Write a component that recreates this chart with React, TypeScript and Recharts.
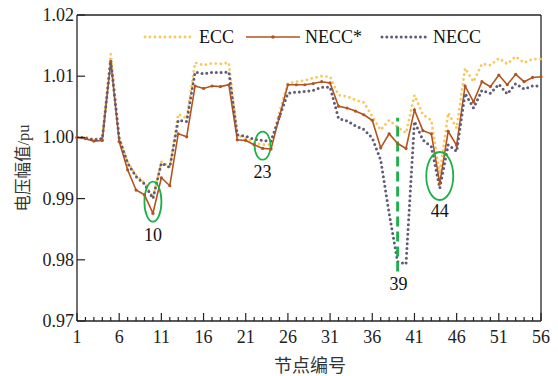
import React from 'react';
import { LineChart, Line, XAxis, YAxis, ReferenceLine, ReferenceDot, Legend } from 'recharts';

const nodes = [1, 2, 3, 4, 5, 6, 7, 8, 9, 10, 11, 12, 13, 14, 15, 16, 17, 18, 19, 20, 21, 22, 23, 24, 25, 26, 27, 28, 29, 30, 31, 32, 33, 34, 35, 36, 37, 38, 39, 40, 41, 42, 43, 44, 45, 46, 47, 48, 49, 50, 51, 52, 53, 54, 55, 56];

const eccValues = [
  1.0000, 1.0000, 0.9997, 0.9999, 1.0136, 1.0000, 0.9960, 0.9938, 0.9926, 0.9902,
  0.9960, 0.9952, 1.0038, 1.0031, 1.0122, 1.0118, 1.0121, 1.0120, 1.0122, 1.0003,
  0.9999, 0.9991, 0.9988, 0.9988, 1.0042, 1.0088, 1.0091, 1.0093, 1.0097, 1.0100,
  1.0099, 1.0069, 1.0067, 1.0061, 1.0057, 1.0034, 1.0012, 1.0028, 1.0017, 1.0007,
  1.0069, 1.0037, 1.0028, 0.9940, 1.0040, 1.0015, 1.0113, 1.0091, 1.0120, 1.0118,
  1.0129, 1.0120, 1.0132, 1.0122, 1.0128, 1.0128,
];

const neccStarValues = [
  1.0000, 0.9998, 0.9994, 0.9995, 1.0124, 0.9993, 0.9947, 0.9914, 0.9906, 0.9876,
  0.9934, 0.9921, 1.0006, 1.0001, 1.0084, 1.0080, 1.0084, 1.0083, 1.0086, 0.9996,
  0.9995, 0.9988, 0.9982, 0.9981, 1.0034, 1.0086, 1.0086, 1.0086, 1.0088, 1.0091,
  1.0089, 1.0051, 1.0048, 1.0043, 1.0037, 1.0028, 0.9983, 1.0006, 0.9990, 0.9982,
  1.0045, 1.0011, 1.0006, 0.9925, 1.0010, 0.9987, 1.0084, 1.0058, 1.0091, 1.0083,
  1.0102, 1.0086, 1.0103, 1.0091, 1.0098, 1.0099,
];

const neccValues = [
  1.0000, 0.9999, 0.9996, 0.9998, 1.0126, 0.9998, 0.9958, 0.9936, 0.9924, 0.9900,
  0.9958, 0.9951, 1.0028, 1.0026, 1.0107, 1.0104, 1.0106, 1.0106, 1.0107, 1.0004,
  1.0002, 0.9997, 0.9995, 0.9994, 1.0034, 1.0072, 1.0074, 1.0075, 1.0077, 1.0082,
  1.0082, 1.0031, 1.0027, 1.0019, 1.0013, 0.9999, 0.9963, 0.9876, 0.9797, 0.9793,
  1.0026, 0.9996, 0.9985, 0.9917, 0.9988, 0.9977, 1.0072, 1.0048, 1.0077, 1.0072,
  1.0087, 1.0071, 1.0088, 1.0079, 1.0084, 1.0084,
];

const yTicks = [0.97, 0.98, 0.99, 1.0, 1.01, 1.02];
const xTickLabels = [1, 6, 11, 16, 21, 26, 31, 36, 41, 46, 51, 56];

// annotated nodes: [node, ellipse centre value]
const circledNodes = [
  { node: 10, value: 0.9895, rx: 8.5, ry: 20 },
  { node: 23, value: 0.99864, rx: 8, ry: 14 },
  { node: 44, value: 0.99369, rx: 13.5, ry: 24 },
];
const nodeLabels = [
  { node: 10, value: 0.98405, text: '10' },
  { node: 23, value: 0.9944, text: '23' },
  { node: 44, value: 0.98797, text: '44' },
  { node: 39.1, value: 0.976, text: '39' },
];
const markerLine = { node: 39, from: 0.9781, to: 1.0032 };

const data = nodes.map((n, i) => ({
  node: n,
  ECC: eccValues[i],
  NECCstar: neccStarValues[i],
  NECC: neccValues[i],
}));

const SERIF = "'Liberation Serif', 'Times New Roman', serif";
const CJK = "'Liberation Serif', 'Noto Sans CJK SC', serif";
const AXIS = '#222';
const ECC_C = '#F9C65C';
const STAR_C = '#B2541F';
const NECC_C = '#5F5B78';
const GREEN = '#1DB04B';

const XTick = (props: any) => {
  const { x, y, payload } = props;
  const v = payload.value;
  const major = xTickLabels.includes(v);
  return (
    <g>
      <line x1={x} x2={x} y1={y} y2={y - (major ? 8 : 4)} stroke={AXIS} strokeWidth={1.2} />
      {major && (
        <text x={x} y={y + 22} textAnchor="middle" fontFamily={SERIF} fontSize={18} fill="#222">
          {v}
        </text>
      )}
    </g>
  );
};

const YTick = (props: any) => {
  const { x, y, payload } = props;
  return (
    <g>
      <line x1={x} x2={x + 8} y1={y} y2={y} stroke={AXIS} strokeWidth={1.2} />
      <text x={x - 3} y={y + 6} textAnchor="end" fontFamily={SERIF} fontSize={18} fill="#222">
        {Number(payload.value).toFixed(2)}
      </text>
    </g>
  );
};

const renderLegend = () => (
  <svg width={380} height={24} style={{ display: 'block' }}>
    <line x1={5} x2={52} y1={12} y2={12} stroke={ECC_C} strokeWidth={2.8} strokeDasharray="0 5" strokeLinecap="round" />
    <text x={59} y={18} fontFamily={SERIF} fontSize={18} fill="#111">ECC</text>
    <line x1={106} x2={160} y1={12} y2={12} stroke={STAR_C} strokeWidth={1.6} />
    <circle cx={133} cy={12} r={1.8} fill={STAR_C} />
    <text x={165} y={18} fontFamily={SERIF} fontSize={18} fill="#111">NECC*</text>
    <line x1={242} x2={288} y1={12} y2={12} stroke={NECC_C} strokeWidth={3} strokeDasharray="0 4.8" strokeLinecap="round" />
    <text x={293} y={18} fontFamily={SERIF} fontSize={18} fill="#111">NECC</text>
  </svg>
);

export default function App() {
  return (
    <div style={{ position: 'absolute', left: 0, top: 0, width: 558, height: 376, background: '#fff' }}>
      <LineChart width={558} height={376} data={data} margin={{ top: 15, right: 17, left: 0, bottom: 0 }}>
        <XAxis
          dataKey="node"
          type="number"
          domain={[1, 56]}
          ticks={nodes}
          interval={0}
          height={55}
          tickSize={0}
          tickMargin={0}
          tickLine={false}
          tick={<XTick />}
          axisLine={{ stroke: AXIS, strokeWidth: 1.3 }}
          label={{
            content: () => (
              <text x={310} y={372} textAnchor="middle" fontFamily={CJK} fontSize={18} fill="#333">
                节点编号
              </text>
            ),
          }}
        />
        <YAxis
          type="number"
          domain={[0.97, 1.02]}
          ticks={yTicks}
          width={77}
          tickSize={0}
          tickMargin={0}
          tickLine={false}
          tick={<YTick />}
          axisLine={{ stroke: AXIS, strokeWidth: 1.3 }}
          label={{
            content: () => (
              <text
                transform="translate(23,168) rotate(-90)"
                textAnchor="middle"
                dominantBaseline="central"
                fontFamily={CJK}
                fontSize={16.5}
                fill="#333"
              >
                电压幅值/pu
              </text>
            ),
          }}
        />
        <ReferenceLine y={1.02} stroke={AXIS} strokeWidth={1.3} />
        <ReferenceLine x={56} stroke={AXIS} strokeWidth={1.3} />
        <Legend
          layout="horizontal"
          verticalAlign="middle"
          align="center"
          content={renderLegend}
          wrapperStyle={{ position: 'absolute', left: 140, top: 25, width: 380, height: 24, margin: 0 }}
        />
        <Line
          dataKey="ECC"
          name="ECC"
          type="linear"
          stroke={ECC_C}
          strokeWidth={2.8}
          strokeDasharray="0 5"
          strokeLinecap="round"
          dot={false}
          isAnimationActive={false}
        />
        <Line
          dataKey="NECCstar"
          name="NECC*"
          type="linear"
          stroke={STAR_C}
          strokeWidth={1.6}
          dot={{ r: 1.6, fill: STAR_C, stroke: 'none' }}
          isAnimationActive={false}
        />
        <Line
          dataKey="NECC"
          name="NECC"
          type="linear"
          stroke={NECC_C}
          strokeWidth={3}
          strokeDasharray="0 4.8"
          strokeLinecap="round"
          dot={false}
          isAnimationActive={false}
        />
        <ReferenceLine
          segment={[
            { x: markerLine.node, y: markerLine.from },
            { x: markerLine.node, y: markerLine.to },
          ]}
          stroke={GREEN}
          strokeWidth={2.8}
          strokeDasharray="10 5"
        />
        {circledNodes.map((c) => (
          <ReferenceDot
            key={'c' + c.node}
            x={c.node}
            y={c.value}
            r={0}
            shape={(p: any) => (
              <ellipse cx={p.cx} cy={p.cy} rx={c.rx} ry={c.ry} fill="none" stroke={GREEN} strokeWidth={1.8} />
            )}
          />
        ))}
        {nodeLabels.map((l) => (
          <ReferenceDot
            key={'l' + l.text}
            x={l.node}
            y={l.value}
            r={0}
            shape={(p: any) => (
              <text x={p.cx} y={p.cy + 6} textAnchor="middle" fontFamily={SERIF} fontSize={18} fill="#111">
                {l.text}
              </text>
            )}
          />
        ))}
      </LineChart>
    </div>
  );
}
